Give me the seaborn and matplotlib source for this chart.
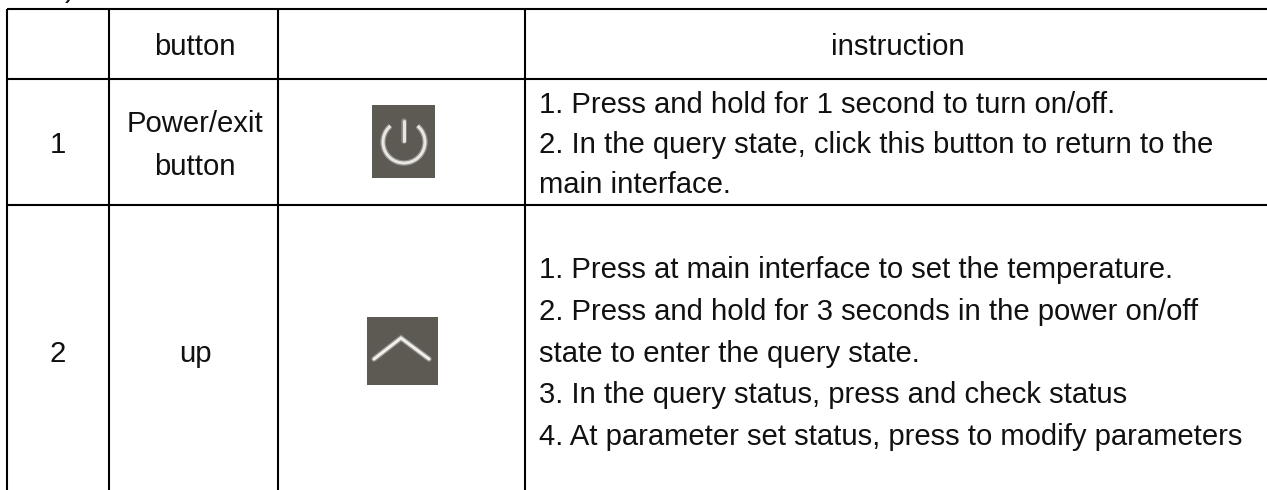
import matplotlib
matplotlib.use('Agg')
import matplotlib.pyplot as plt
from matplotlib.patches import Arc, Rectangle
import seaborn as sns

# table contents
header = ["button", "instruction"]
row_numbers = ["1", "2"]
button_lines = ["Power/exit", "button", "up"]
instructions_1 = [
    "1. Press and hold for 1 second to turn on/off.",
    "2. In the query state, click this button to return to the",
    "main interface.",
]
instructions_2 = [
    "1. Press at main interface to set the temperature.",
    "2. Press and hold for 3 seconds in the power on/off",
    "state to enter the query state.",
    "3. In the query status, press and check status",
    "4. At parameter set status, press to modify parameters",
]

# grid in image pixels
column_edges = [7, 109, 278, 525]
row_edges = [9, 79, 205]
number_x = 58
button_x = 195
instruction_x = 898
text_left = 539
header_base = 55
number_base = [153, 362]
button_base = [132, 175, 362]
lines_1_base = [113, 153, 193]
lines_2_base = [278, 320, 362, 403, 445]

icon_color = "#5d5a53"
line_color = "#000000"
text_color = "#111111"
font_px = 29.3
font_size = font_px * 72 / 100

sns.set_theme(style="white")
plt.rcParams['font.family'] = ['Liberation Sans', 'DejaVu Sans']

fig = plt.figure(figsize=(12.67, 4.9), dpi=100)
ax = fig.add_axes([0, 0, 1, 1])
ax.set_xlim(0, 1267)
ax.set_ylim(490, 0)
ax.axis('off')

ax.vlines(column_edges, row_edges[0], 490, color=line_color, lw=1.5)
ax.hlines(row_edges, column_edges[0], 1267, color=line_color, lw=1.5)


def put(x, y, s, ha='center'):
    ax.text(x, y, s, ha=ha, va='baseline', fontsize=font_size, color=text_color)


put(button_x, header_base, header[0])
put(instruction_x, header_base, header[1])
for y, number in zip(number_base, row_numbers):
    put(number_x, y, number)
for y, name in zip(button_base, button_lines):
    put(button_x, y, name)
for y, line in zip(lines_1_base, instructions_1):
    put(text_left, y, line, ha='left')
for y, line in zip(lines_2_base, instructions_2):
    put(text_left, y, line, ha='left')

# clipped bit of the line above the table
put(70, -3, ")")

# power icon
ax.add_patch(Rectangle((372, 105), 63, 73, color=icon_color, lw=0))
for lw, alpha in [(4.0, 0.35), (2.2, 1.0)]:
    ax.add_patch(Arc((404, 142), 42, 42, theta1=-50, theta2=230, color='#e8e6e2', lw=lw, alpha=alpha))
    ax.plot([404, 404], [121, 141], color='#e8e6e2', lw=lw, alpha=alpha, solid_capstyle='round')

# up icon
ax.add_patch(Rectangle((367, 317), 71, 68, color=icon_color, lw=0))
for lw, alpha in [(4.0, 0.35), (2.2, 1.0)]:
    ax.plot([374, 401, 429], [359, 338, 359], color='#f0eeea', lw=lw, alpha=alpha,
            solid_capstyle='round', solid_joinstyle='miter')

fig.savefig("out.png", dpi=100)
